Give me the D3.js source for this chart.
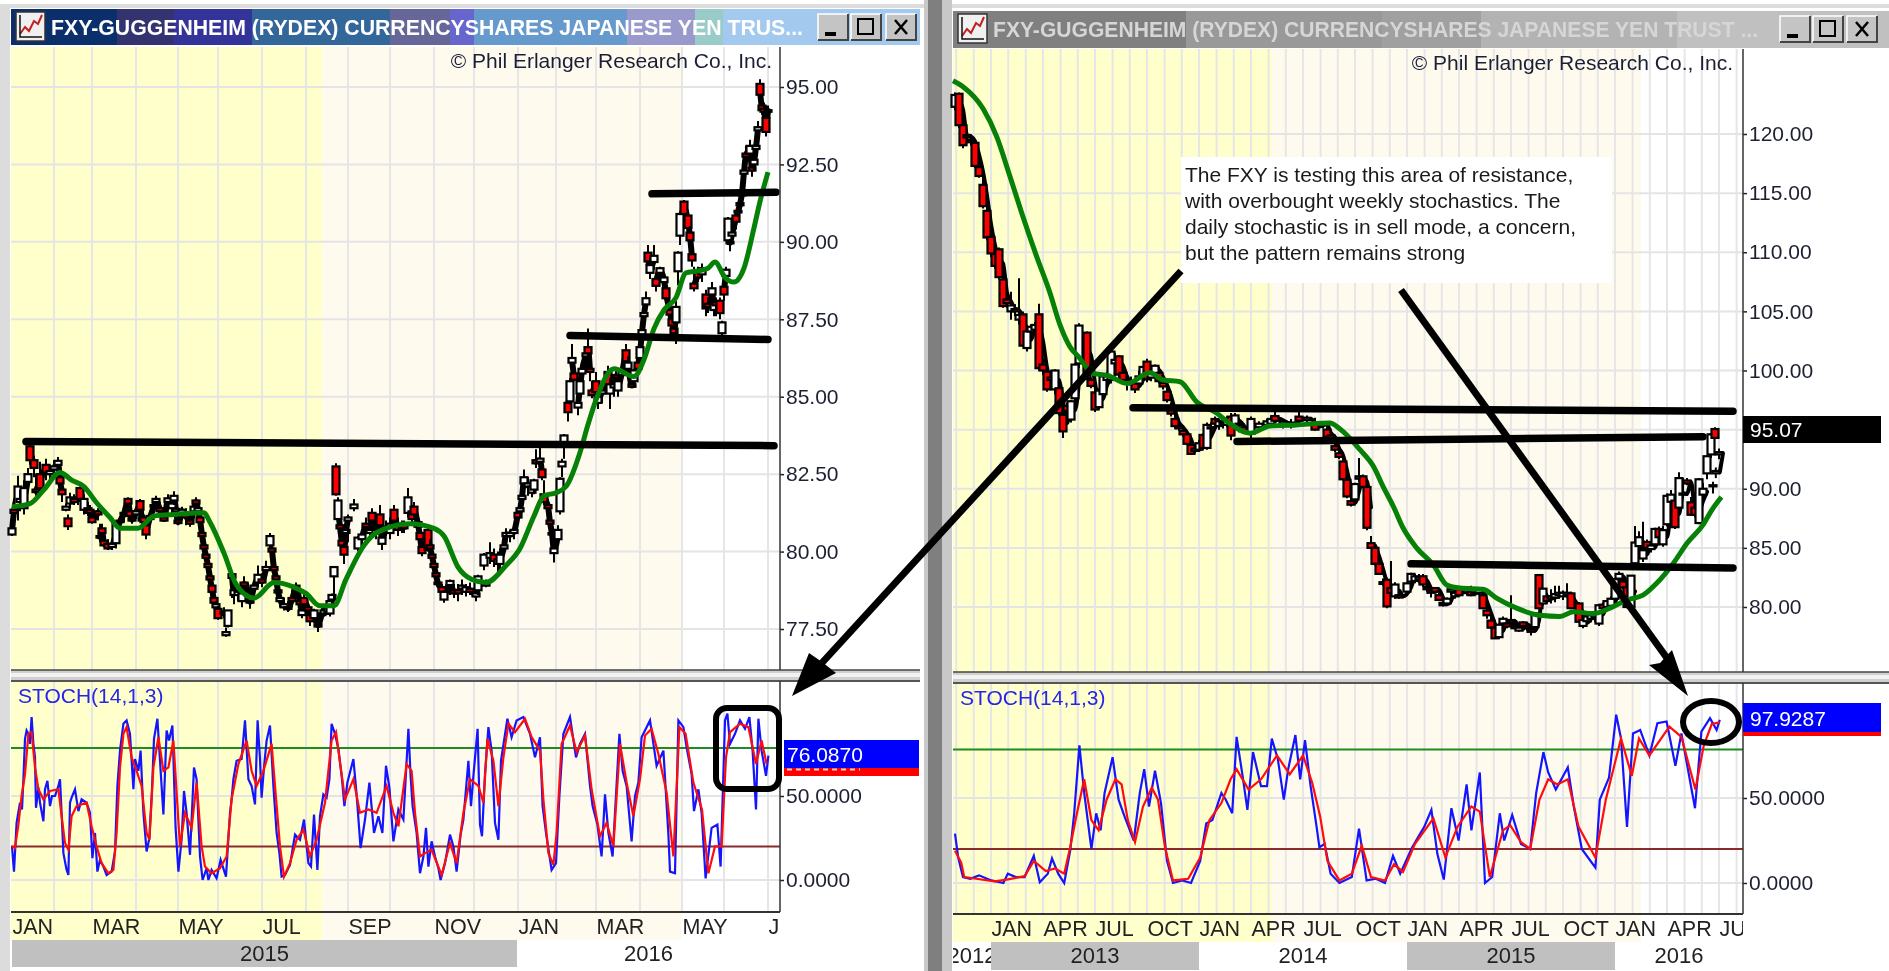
<!DOCTYPE html>
<html>
<head>
<meta charset="utf-8">
<script src="https://cdn.jsdelivr.net/npm/d3@7"></script>
<style>
  html, body { margin: 0; padding: 0; background: #fff; overflow: hidden; }
  svg { display: block; filter: blur(0.55px); font-family: "Liberation Sans", Arial, sans-serif; }
</style>
</head>
<body>
<div id="chart"></div>
<script>
// FXY daily (left) and weekly (right) charts with stochastics

// candles are [bar, open, high, low, close], drawn in this order
var dailyCandles = [
  [0,80.55,80.9,80.5,80.75],[1,81.35,81.5,80.8,81.25],[3,81.45,82.45,81,82.1],[4,81.6,82,81.3,81.7],[6,81.4,82.3,81.2,82.05],
  [8,82.25,82.7,82,82.5],[9,83.4,83.6,82.8,82.95],[11,82.95,83.1,82.4,82.7],[12,82,82.5,81.8,81.92],[14,82.5,82.9,81.9,82.05],
  [17,82.8,83,82.3,82.55],[19,82.5,82.8,82.3,82.6],[21,82.65,82.95,82.4,82.75],[23,82.8,83.05,82.55,82.93],[24,82.4,82.5,81.9,82.2],
  [25,82,82.2,81.6,81.85],[27,81.35,81.55,81.3,81.45],[28,81.07,81.2,80.7,80.82],[29,81.55,81.9,81.4,81.75],[31,81.7,81.85,81.5,81.6],
  [33,81.75,81.9,81.5,81.7],[34,82.05,82.1,81.6,81.7],[36,81.35,81.85,81.2,81.7],[38,81.4,81.6,81.15,81.25],[39,81.35,81.5,81.1,81.25],
  [40,81.1,81.3,80.9,80.95],[43,81.3,81.4,81,81.2],[44,80.45,80.9,80.3,80.5],[45,80.75,80.9,80.5,80.6],[46,80.35,80.6,80.15,80.2],
  [48,80.25,80.4,80.05,80.1],[50,80.15,80.4,80.05,80.25],[52,80.27,81,80.1,80.9],[54,80.95,81.15,80.75,81],[56,81.2,81.4,80.95,81.25],
  [58,81.7,81.75,81.4,81.55],[59,81.3,81.45,81,81.15],[60,81.07,81.3,80.9,81],[62,81.2,81.45,81.05,81.3],[64,81.63,81.7,81.2,81.35],
  [65,81.1,81.25,80.9,81],[66,81.1,81.2,80.8,80.95],[67,80.85,81,80.4,80.55],[69,81.05,81.25,80.95,81.15],[71,81.45,81.65,81.25,81.5],
  [72,81.6,81.8,81.4,81.7],[74,81.4,81.6,81.2,81.3],[76,81.1,81.35,81,81],[78,81.6,81.85,81.45,81.72],[80,81.4,81.7,81.2,81.55],
  [81,81.65,81.95,81.5,81.8],[82,81.3,81.5,81.15,81.38],[83,81,81.2,80.85,80.92],[85,81.25,81.45,81,81.35],[87,81.2,81.4,80.85,81.1],
  [89,81,81.2,80.8,80.9],[91,81.3,81.55,81.1,81.45],[92,81.65,81.75,81.4,81.55],[93,81.3,81.5,81,81.4],[94,81.1,81.25,80.9,80.95],
  [95,80.6,80.75,80.4,80.5],[96,80.2,80.4,80.05,80.1],[97,79.9,80.05,79.7,79.8],[98,79.6,79.8,79.4,79.5],[99,79.2,79.4,79,79.1],
  [100,78.9,79,78.6,78.7],[101,78.5,78.7,78.2,78.35],[102,78.2,78.4,78.05,78.3],[103,78.15,78.25,77.8,77.85],[106,78.05,78.2,77.85,78],
  [107,77.3,77.55,77.25,77.4],[108,77.6,78.1,77.55,78.1],[110,79.15,79.3,78.5,79.27],[111,78.6,78.8,78.3,78.75],[113,78.6,78.9,78.4,78.7],
  [115,78.4,78.8,78.2,78.65],[116,79,79.2,78.7,78.9],[118,78.75,79,78.5,78.68],[119,78.35,78.55,78.15,78.42],[121,78.8,79,78.6,78.9],
  [123,79,79.55,78.85,79.25],[125,79.1,79.3,78.85,79],[127,79.4,79.7,79.2,79.5],[129,80.2,80.6,80.1,80.5],[130,80.1,80.2,79.9,80],
  [131,79.5,79.6,79.2,79.4],[132,79.2,79.35,79,79.1],[133,78.75,79,78.6,78.68],[134,78.4,78.6,78.2,78.5],[136,78.2,78.5,78.1,78.3],
  [138,78.2,78.4,78.05,78.15],[140,78.5,78.75,78.2,78.4],[142,78.9,79,78.6,78.72],[144,78.4,78.7,78.2,78.3],[145,77.95,78.3,77.85,78.1],
  [146,78.5,78.65,78.1,78.3],[148,78.2,78.35,77.95,78.1],[149,77.95,78.1,77.6,77.75],[151,77.85,78.15,77.7,78.1],[153,77.65,77.75,77.4,77.58],
  [155,78,78.2,77.8,77.95],[156,78,78.2,77.9,78.1],[158,78.05,78.25,77.95,78.2],[159,78,78.4,77.9,78.4],[160,78.45,78.65,78.3,78.6],
  [161,79.2,79.5,78.4,79.5],[162,82.75,82.85,81.8,81.85],[163,81.05,81.75,80.8,81.65],[164,80.85,81.05,80.6,80.75],[165,80.35,80.75,79.9,80.2],
  [166,80.15,80.3,79.6,79.9],[167,80.6,80.95,80.3,80.7],[168,81,81.2,80.3,81.1],[171,81.4,81.7,81.3,81.52],[173,80.1,80.5,80,80.45],
  [175,80.4,80.65,80.1,80.55],[177,80.9,81.1,80.7,80.8],[179,80.6,80.9,80.4,80.7],[180,81.25,81.4,80.9,81],[182,80.6,81,80.4,80.7],
  [184,81.2,81.5,80.7,80.85],[185,80.25,80.7,80.05,80.45],[187,80.7,81,80.5,80.8],[189,80.6,81.1,80.4,80.9],[191,81.35,81.5,80.9,81],
  [193,80.85,81.1,80.5,80.7],[195,80.75,81,80.6,80.8],[196,80.85,81,80.6,80.75],[198,81.25,82.05,81.1,81.75],[200,81.3,81.5,80.9,81.05],
  [201,81.45,81.6,81.1,81.2],[203,80.95,81.05,80.65,80.8],[204,80.6,80.75,80.3,80.4],[205,80.15,80.3,79.85,79.95],[208,80.7,80.8,80,80.05],
  [209,80.2,80.4,79.95,80.1],[210,79.9,80.05,79.7,79.8],[211,79.6,79.8,79.4,79.5],[212,79.3,79.5,79.1,79.2],[213,79,79.2,78.85,78.95],
  [215,78.85,78.95,78.6,78.7],[216,78.45,78.75,78.35,78.7],[219,78.92,79.1,78.6,79.05],[221,78.75,78.95,78.5,78.65],[223,78.75,78.95,78.4,78.65],
  [225,78.8,79.1,78.6,78.9],[227,78.7,78.95,78.55,78.85],[229,78.8,79,78.6,78.7],[232,78.55,78.7,78.4,78.65],[233,78.75,79.25,78.6,79.2],
  [236,79.55,79.95,79.4,79.9],[237,78.95,79.1,78.85,78.9],[239,79.8,80.3,79.6,79.95],[241,79.9,80.1,79.5,79.7],[243,79.6,80,79.3,79.75],
  [244,79.6,80.1,79.4,79.9],[246,80.1,80.4,79.9,80.2],[247,80.5,80.75,80.25,80.6],[249,80.5,80.7,80.3,80.6],[251,80.6,80.9,80.4,80.7],
  [253,81.25,81.35,80.95,81.1],[254,81.3,81.5,81.1,81.4],[255,81.7,81.95,81.5,81.8],[256,82.2,82.65,82,82.4],[258,82.1,82.4,81.8,82.2],
  [260,81.9,82.3,81.75,82.1],[261,82,82.35,81.85,82.3],[262,82.95,83.3,82.7,82.85],[264,82.9,83.4,82.6,83],[265,82.65,82.8,82.3,82.4],
  [266,81.85,82.3,81.5,81.6],[268,81.5,81.7,81.2,81.4],[269,81,81.3,80.75,80.9],[270,80.6,80.9,80.4,80.55],[271,79.95,80.3,79.65,80.1],
  [273,80.4,80.85,80.3,80.7],[274,81.3,82.4,81.2,82.35],[275,82.75,83,82.4,82.9],[276,83.5,83.8,83,83.75],[278,84.8,84.85,84.2,84.5],
  [279,84.85,85.6,84.75,85.5],[280,86.1,86.7,85.9,86.25],[281,85.75,85.9,85.5,85.55],[283,84.65,85,84.4,84.8],[284,85.1,85.6,84.9,85.5],
  [285,85.75,86,85.5,85.9],[287,86.3,86.5,85.8,86.4],[288,86.6,87.2,86.2,86.4],[289,85.9,86.2,85.5,85.8],[290,85.2,85.5,84.95,85.05],
  [292,85.5,85.8,84.8,85.15],[293,84.8,85.1,84.6,85],[295,85.1,85.4,84.8,85.2],[298,85.8,86,85.1,85.4],[299,85.1,85.6,84.6,85.4],
  [301,85.3,85.6,85,85.4],[302,85.7,85.9,85.3,85.62],[303,85.2,85.6,85,85.5],[305,85.7,86,85.5,85.85],[307,86.5,86.7,86,86.15],
  [308,85.9,86.3,85.7,86.1],[310,85.4,85.55,85.3,85.32],[311,85.5,85.9,85.3,85.85],[313,86.1,86.3,85.8,85.9],[314,86.25,86.7,86.1,86.6],
  [315,87,87.3,86.8,87.15],[316,87.6,87.8,87.4,87.7],[317,87.98,88.4,87.7,88.18],[318,89.65,89.9,89.2,89.37],[319,89,89.5,88.8,89.25],
  [321,89.35,89.9,89.1,89.55],[322,88.8,89,88.4,88.58],[324,89,89.2,88.7,89.15],[326,88.7,89,88.4,88.85],[327,88.5,88.7,88,88.18],
  [329,87.8,88,87.5,87.65],[330,87.5,87.7,87.1,87.3],[331,87.2,87.5,86.8,87.05],[332,87.4,88.1,86.7,87.9],[333,89.05,89.7,88.6,89.65],
  [334,90.2,90.95,89.9,90.9],[336,91.3,91.35,90.6,90.9],[338,90.85,90.9,90.3,90.45],[339,90.3,90.5,89.9,90.05],[340,89.6,89.9,89.2,89.4],
  [341,88.65,89.2,88.4,88.5],[343,89,89.2,88.7,88.85],[345,88.95,89.3,88.7,89.15],[347,88.3,88.45,87.6,87.85],[348,88,88.2,87.7,87.9],
  [350,88.3,88.7,88,88.5],[351,87.8,88.1,87.6,88],[352,88.05,88.2,87.6,87.95],[354,88.1,88.2,87.5,87.7],[355,87.05,87.45,86.9,87.4],
  [356,88.55,88.7,88.1,88.3],[357,88.9,89.2,88.6,89.1],[358,90.05,90.8,89.9,90.75],[359,90,90.1,89.7,89.95],[360,90.2,90.5,90,90.3],
  [362,90.85,91,90.4,90.65],[363,90.95,91.1,90.8,91],[364,91.25,91.4,91.1,91.18],[365,91.5,91.8,91.3,91.65],[366,92.2,92.5,92,92.3],
  [367,92.85,93.1,92.6,92.75],[369,92.85,93.3,92.7,93.1],[370,92.4,92.6,92.1,92.3],[371,92.5,92.8,92.3,92.65],[372,93,93.3,92.8,93.1],
  [373,93.6,93.9,93.3,93.7],[374,95.1,95.25,94.5,94.75],[375,94.4,94.5,94.1,94.25],[376,94.3,94.5,94,94.2],[378,94.2,94.4,94,94.25],
  [377,94,94.4,93.4,93.55]
];

var weeklyCandles = [
  [0,122.3,123.5,122,123.3],[1,123.4,123.5,120.5,120.75],[2,120.75,120.9,118.8,119.05],[3,119.9,120.3,119.4,119.7],[4,119.5,119.9,119,119.3],
  [5,119.25,119.4,117.1,117.3],[6,117.2,117.5,116.3,116.45],[7,115.7,116.4,113.7,113.9],[8,113.5,114.2,111,111.25],[9,111.3,111.8,109.6,109.9],
  [10,109.85,110.4,108.6,108.85],[11,110.25,110.4,107.7,107.9],[12,107.7,108,105.3,105.45],[13,106,106.3,105.3,105.7],[14,105,106.65,104.3,105.5],
  [15,105.2,105.6,104.6,105],[16,104.3,107.8,103.9,104.7],[17,104.75,105,102,102.1],[18,101.9,103.4,101.6,103.3],[19,103.3,103.9,103,103.7],
  [20,103.45,104.1,103.2,103.85],[21,104.75,105.65,100,100.2],[22,100.5,101,99.6,100],[23,99.9,100.2,98.2,98.4],[24,99.2,100,98.6,99.4],
  [25,98.4,100.1,98,100],[26,98.5,98.7,96.2,96.4],[27,96.25,96.5,94.3,94.85],[28,97,97.3,96.3,96.6],[29,95.85,97.5,95.6,97.4],
  [30,97.65,100.6,97.4,100.5],[31,100.6,104,100.2,103.8],[33,103.2,103.3,99.2,99.35],[34,99.2,99.4,98.5,98.7],[35,98.15,98.5,96.5,96.7],
  [36,96.9,98.5,96.7,98.3],[37,98,99.7,97.6,99.5],[38,99.2,99.9,98.9,99.5],[39,99.2,101.8,98.9,101.6],[40,100.6,101.5,100.1,100.9],
  [41,101.2,101.3,99.4,99.65],[42,99.8,100,99,99.2],[43,99.1,99.6,98.3,98.9],[44,98.9,99.5,98.7,99.1],[45,98.9,99.2,98.1,98.4],
  [46,98.9,100,98.6,99.5],[47,99.5,100.4,99.2,100.3],[48,100.75,101,99,99.25],[49,99.4,100.1,99.1,99.8],[50,99.7,100.5,99.3,100.4],
  [51,99.8,100.3,98.9,99.1],[52,98.95,99.2,98.4,98.65],[53,98.2,98.5,97.3,97.5],[54,96.9,97.3,96.1,96.35],[55,95.9,96.3,95.1,95.3],
  [56,95.3,95.6,94.9,95.1],[57,94.9,95.2,94.4,94.6],[58,94.6,94.8,93.7,93.8],[59,93.7,93.9,92.85,92.95],[60,93.2,93.6,93,93.4],
  [61,93.3,94.1,93.1,93.85],[62,94.55,94.7,93.3,93.45],[63,93.45,95.6,93.3,95.4],[64,95.2,95.6,94.7,95.1],[65,95.9,96.1,95.2,95.5],
  [66,95.3,95.9,95,95.7],[67,95.6,96,95.1,95.4],[68,95.4,96.1,95.2,95.9],[69,96.1,96.4,94.1,94.5],[70,95.3,96.4,95.2,96.2],
  [71,95.5,96,95.1,95.4],[72,95.2,95.5,94.7,94.85],[74,94.65,96.1,94.2,95.9],[76,95.2,95.7,94.9,95.5],[78,95.4,95.9,95.1,95.7],
  [79,95.5,96.2,95.2,95.9],[80,96.15,96.5,95.6,95.75],[82,95.5,95.9,95.1,95.7],[84,95.3,95.9,95.1,95.6],[86,96.1,96.5,95.6,95.75],
  [88,95.8,96.2,95.5,96],[90,95.5,96,94.9,95],[92,95.4,95.7,95.1,95.5],[93,95,95.3,94.2,94.4],[94,94.5,94.8,94,94.2],
  [95,93.6,94,93.1,93.3],[96,93,93.3,92.5,92.7],[97,92.3,92.5,90.7,90.8],[98,90.75,91,89.2,89.35],[99,88.95,90,88.5,88.65],
  [100,89.1,90.5,88.9,90.4],[101,90.85,92.6,90.6,91.05],[102,91.05,91.2,90.05,90.15],[103,90.15,90.3,86.5,86.7],[104,85.4,86,85,85],
  [105,85,85.2,83.5,83.65],[106,83.65,83.9,82.7,82.8],[107,82.1,82.4,81.8,81.95],[108,82.3,82.5,79.9,80.05],[109,81.6,83.9,81,81.2],
  [110,80.9,82.1,80.7,81.9],[111,81,81.2,80.7,80.8],[113,81.3,82.1,81.1,82],[114,82.15,82.9,82,82.8],[115,82.2,82.8,82,82.6],
  [116,82.3,82.8,82,82.5],[117,82.6,82.8,81.7,81.9],[118,81.7,82,81.3,81.5],[119,81.4,81.7,80.8,81.2],[120,81.6,81.7,81.2,81.3],
  [121,81,81.2,80.5,80.6],[122,80.35,80.5,80.05,80.15],[123,80.3,80.8,80.2,80.7],[124,81.3,81.7,81,81.5],[125,80.9,81.4,80.7,81.2],
  [126,81.5,81.7,80.9,81],[128,81.2,81.7,81,81.4],[129,81.3,81.8,80.9,81],[130,81.2,81.6,81,81.4],[131,81.2,81.7,81,81.5],
  [132,81,81.2,79.85,79.9],[133,79.7,79.9,79,79.3],[134,78.85,79.2,78.2,78.25],[135,78.25,78.4,77.3,77.35],[136,77.45,78.6,77.3,78.5],
  [137,78.6,79.2,78.4,79],[138,78.6,78.9,78.2,78.35],[139,78.9,81,78.4,78.7],[140,78.4,78.9,78.1,78.2],[141,78,78.4,77.9,78.25],
  [142,78.7,78.8,78.2,78.4],[143,78.4,78.7,78,78.2],[144,78.1,78.4,77.6,77.9],[145,78.3,79.5,77.9,79.45],[146,82.7,82.75,79.8,79.9],
  [147,80.3,81.6,80.1,81.55],[148,80.9,81.2,80.3,80.5],[149,80.7,81.5,80.3,80.9],[150,80.8,81.8,80.4,81.1],[151,81,81.8,80.7,81.2],
  [152,80.9,81.4,80.6,81.2],[153,81,82,80.8,81.2],[154,81.15,81.3,79.8,79.9],[156,80.3,80.4,78.7,78.75],[157,78.4,79,78.2,78.9],
  [158,78.8,79.4,78.6,79.2],[159,79,79.5,78.7,79.3],[160,79.1,79.5,78.7,79.3],[161,78.6,80.2,78.4,80.15],[162,80.2,80.4,79.8,79.9],
  [163,80,80.6,79.8,80.5],[164,80.1,80.9,79.9,80.7],[165,80.7,82.4,80.5,82.35],[166,82.4,83,82.1,82.8],[167,82.15,82.5,81.5,81.65],
  [168,81.65,81.8,79.9,80],[169,80,82.7,79.9,82.65],[170,83.7,86.85,83.5,85.45],[171,85.15,86.4,84.4,85.9],[172,84.1,87.2,83.8,84.8],
  [173,85.5,85.7,84.8,85],[174,84.9,85.5,84.6,85.2],[175,85.3,86.7,85.1,86.6],[176,86.6,86.8,85.8,85.9],[177,85.3,86.9,85.1,86.5],
  [178,87,89.6,86.8,89.4],[179,88.9,89.9,88.7,89.5],[180,89,89.2,86.6,86.75],[181,88.4,91.4,88.2,90.9],[182,89.5,90.9,89.2,89.6],
  [183,90.7,90.9,90.3,90.45],[184,88.85,89.3,87.7,87.8],[185,88.4,89,87.6,87.8],[186,87.1,90.9,87,90.8],[187,89.5,90.5,89.2,90],
  [189.5,90.2,90.6,89.6,90.3],[190.2,91.3,91.8,90.9,91.5],[191,92.9,93.4,92.5,93.1],[188,91.3,92.8,90.8,92.75],[189,92.9,94.7,92.6,94.6],
  [190,95.05,95.2,94.3,94.3]
];

// bars standing apart from the dense run of candles
var dailyLoose = [27,28,107,129,162,171,355];
var weeklyLoose = [190,189,188];

// moving average, [bar, value]
var dailyAverage = [
  [0,81.45],[9,81.55],[16,82],[24,82.55],[30,82.3],[36,82.1],[42,81.6],[49,81.1],[54,80.75],[63,80.75],[71,81.15],[81,81.2],[96,81.25],
  [99,80.95],[106,79.95],[112,78.95],[121,78.5],[131,79],[141,78.85],[147,78.65],[154,78.25],[161,78.25],[167,79.1],[176,80.2],[182,80.6],
  [199,80.9],[211,80.75],[216,80.5],[223,79.5],[230,79.1],[237,79],[247,79.55],[254,80.1],[261,81.15],[266,81.8],[272,81.9],[277,82.1],
  [284,83.2],[288,84.1],[292,84.9],[301,85.9],[311,85.65],[316,86.2],[321,87.2],[326,87.8],[332,88.2],[337,89],[342,89.05],[348,89.15],
  [351.5,89.35],[356.5,88.85],[361,88.7],[366,89.15],[371,90.45],[374,91.3],[378,92.25]
];
var weeklyAverage = [
  [-0.5,124.5],[2,124],[7,122.15],[10.4,119.8],[13.75,116.4],[16.7,113.3],[20.4,109.65],[23.75,106.55],[26.25,103.85],[28.75,102],[30.8,101.2],
  [34.6,99.75],[38,99.6],[43,98.9],[48.75,99.8],[52,99.2],[56.25,99.05],[60.4,97.35],[65.4,96.4],[68,95.7],[73.75,94.7],[78.75,95.3],[85.4,95.4],
  [93.75,95.55],[96.25,95.05],[101.25,93.3],[104.6,91.9],[107,90.2],[109.6,88.5],[112,86.7],[115.4,85],[119.6,83.55],[123,81.85],[126.25,81.6],
  [132,81.5],[135.4,80.75],[140.4,79.9],[146.25,79.3],[151.25,79.2],[154.6,79.6],[159.6,79.45],[163.75,79.9],[168,80.6],[172,81],[175.4,82],
  [179.6,83.7],[183,85.4],[187,86.95],[189.2,88.2],[191.6,89.3]
];

// stochastic %K and %D, [bar, value]
var dailyK = [
  [0,20],[1,5],[2.3,34],[4,46],[5,42],[5.7,60],[6.5,84],[7.3,89],[8.2,87],[9,81],[9.8,97],[10.7,81],[11.5,73],[12,43],[13.2,55],[14,46],[15.7,35],
  [16.5,54],[17.7,59],[19,44],[20,50],[21.5,50],[23.2,56],[24,60],[24.8,40],[25.7,16],[27.3,6],[28.2,3],[29,46],[29.8,49],[31.5,54],[33.2,41],
  [34.8,48],[37.3,46],[39,40],[40.2,13],[41.5,28],[42.7,5],[44,12],[45.7,8],[47.3,3],[49.8,5],[51.5,17],[52.7,56],[54,77],[55.7,93],[57.3,95],
  [59,87],[60.7,54],[61.5,72],[63.2,65],[64.3,77],[65.7,40],[67.3,17],[68.7,25],[70,54],[71,84],[72.7,96],[74,71],[75.7,39],[77.3,89],[78.5,83],
  [80.2,92],[81.8,31],[83.2,5],[84.8,24],[86,53],[87.3,40],[89,15],[91,67],[92.3,60],[94,14],[95.3,0],[97.3,7],[98.2,0],[99.8,6],[102.3,1],[104.3,12],
  [107,2],[109,40],[109.8,48],[110.7,60],[112.3,71],[114.8,72],[116.5,95],[118.2,60],[119.8,56],[121.5,45],[122.8,95],[124,72],[124.8,49],[126,67],
  [127.3,83],[129,92],[130.7,56],[132.3,28],[133.7,16],[134.8,2],[136.5,3],[139,9],[141.5,27],[144,24],[146,36],[148.2,10],[149.5,8],[151,39],[152.7,6],
  [154,38],[155.7,51],[157.3,49],[158.7,60],[159.8,93],[161.5,87],[163.2,78],[165,60],[166.2,44],[167.7,58],[170.7,72],[172.3,51],[174.3,19],[176.5,36],
  [178.7,58],[181,28],[183.2,38],[185.2,28],[187,68],[188.7,55],[190.7,23],[193.2,42],[195.7,36],[198.2,90],[199.3,62],[200.3,44],[202.3,28],[204,4],
  [205.7,14],[207,31],[208.2,8],[209.8,23],[211.5,14],[213.2,7],[214.3,0],[216.5,10],[219,27],[220.7,20],[222.3,5],[224.3,27],[225.7,36],[228.2,71],
  [229.5,44],[230.7,62],[232.8,90],[234,33],[235,26],[236.5,63],[238.2,91],[239.8,77],[241.5,34],[243.2,24],[244.5,71],[247.7,96],[249.8,85],[252.3,95],
  [255.7,97],[259,87],[261.5,73],[264,85],[265.3,44],[267,28],[269.8,6],[272,10],[273.7,50],[275.7,87],[279,97],[282,73],[284,81],[286.5,87],[289,56],
  [290.3,44],[292.7,33],[294.8,14],[296.5,51],[298.2,28],[300.3,14],[303.7,87],[305.3,65],[307.3,56],[309.8,23],[311.5,50],[313.2,58],[314.8,85],[319,95],
  [322.3,68],[325.7,77],[328.2,27],[329,5],[331.5,4],[333.2,95],[335.7,91],[337.3,79],[339.8,63],[341,41],[343.2,54],[344.8,40],[346.8,1],[349.8,31],
  [352.7,33],[354.3,8],[356.5,95],[357.7,99],[359,81],[361.5,87],[364,95],[366.5,90],[368.7,97],[370.3,77],[372,42],[373.2,96],[374.8,77],[377,62],[378.2,74]
];
var dailyD = [
  [0,20],[1.5,19],[3.2,33],[4.8,50],[6.5,63],[8.2,87],[9.8,88],[11.5,67],[13.2,54],[15.7,48],[19,53],[23.2,54],[24.8,38],[26.5,22],[28.2,18],[29.8,38],
  [32.3,44],[37.3,46],[39.8,32],[42.3,20],[44.8,10],[48.2,4],[50.7,6],[52.3,28],[54,67],[55.7,87],[57.3,91],[59.8,73],[62.3,65],[64.8,56],[67.3,28],
  [68.7,24],[70.7,67],[73.2,85],[75.7,65],[78.2,67],[80.7,83],[82.3,52],[84,20],[86.5,40],[89.8,31],[92.3,58],[94.8,20],[96.5,8],[99.8,4],[104,7],
  [107.3,14],[109.8,48],[113.2,69],[117.3,83],[119.8,65],[122.3,56],[125.7,65],[129.8,81],[131.5,56],[134,20],[136,2],[139,10],[142.3,24],[145.7,30],
  [149,14],[152.3,24],[156.5,46],[159.8,83],[162,88],[164.8,63],[166.5,48],[170.7,60],[174,40],[178.2,42],[182.3,40],[187.3,56],[190.7,40],[193.2,32],
  [197.3,69],[199.8,65],[201.5,40],[204,14],[206.5,16],[209.8,18],[214.8,3],[219,22],[222.3,10],[225.7,40],[229,60],[233.2,56],[235.7,46],[237.7,84],
  [240.7,71],[243.2,44],[245.7,73],[248.2,93],[251.5,88],[256.5,96],[259.8,85],[264,77],[265.7,48],[268.2,16],[270.7,9],[272.3,28],[274.8,81],[279,92],
  [282.3,76],[286.5,86],[289.8,54],[294,26],[297.3,34],[300.7,20],[304,81],[307.3,58],[310.7,38],[314,60],[316.5,86],[319.8,90],[323.2,75],[327.3,52],
  [330.7,14],[333.7,91],[336.8,87],[340.7,58],[345,42],[348.2,4],[351.5,20],[354.8,20],[357,73],[359,88],[364,93],[368.2,91],[372,69],[374.8,83],[377.3,69]
];
var weeklyK = [
  [0,29],[0.8,15],[2,3.5],[3.8,2.5],[6,4.5],[9.1,1.5],[12.1,0],[13.2,5.5],[15.2,3.5],[17.4,3.5],[19.7,16],[21.2,0.5],[23.2,5.5],[24.25,14.5],[25.8,5.5],
  [27.3,0],[28.8,19],[29.8,41],[31.1,81],[32.3,53],[34.1,20],[35.3,41],[36.4,31],[37.4,53],[39.4,74],[40.9,49],[42.4,39],[44.7,25],[46.2,53],[47.3,67],
  [48.5,45],[50,66],[51.5,47],[53,13],[54.5,0],[56.8,1.5],[59,0],[61.3,13],[62.8,35],[64.35,37],[66.6,53],[67.7,49],[69.3,41],[70.4,86],[71.9,63],[73.1,43],
  [74.5,77],[76.5,57],[78,57],[79.2,85],[80.7,73],[82.2,49],[83.3,67],[85.1,87],[86.3,61],[87.5,84],[88.9,57],[90.4,33],[91.1,21],[92.4,23],[93.9,5.5],
  [96.1,0],[99.2,3.5],[101,32],[102.9,1.5],[105.2,2.5],[107.5,0],[109.5,16],[111.3,5.5],[114.3,21],[117.3,33],[119.1,43],[120.6,17],[122.2,2],[124.1,44],
  [125.9,25],[127.9,58],[129.1,31],[131.2,65],[132.5,0],[134.3,3.5],[136.2,41],[137.3,25],[139.3,40],[141.5,23],[143.8,20],[145.3,53],[147.1,77],[148.3,65],
  [150.2,55],[153.2,68],[154.7,45],[156.7,20],[160.1,9],[161.2,49],[163.5,62],[165.3,99],[166.5,85],[168,33],[169.5,88],[171.3,90],[173.6,75],[175.6,94],
  [177.9,95],[180.1,69],[181.6,88],[185,44],[186.6,89],[188.75,97],[190.4,90],[191.2,96]
];
var weeklyD = [
  [0,19],[1.55,12],[2.3,3.5],[5.3,2.5],[9.9,1],[12.9,2],[17.4,4],[19.7,13],[22.7,7],[25,8.5],[27.3,5.5],[28.8,21],[30.3,39],[32.3,61],[34.1,37],[35.9,31],
  [37.9,49],[40.1,61],[41.65,58],[43.2,37],[45,24],[47,45],[49.2,56],[50.75,49],[52.5,21],[54.5,1.5],[58.3,2.5],[61.3,15],[63.6,37],[66.6,47],[68.9,61],
  [70.4,67],[73.4,55],[76.5,61],[80.5,75],[83.7,64],[87,75],[89.3,59],[91.3,39],[93.1,13],[96.1,1.5],[99.2,5.5],[101.7,22],[104,3.5],[107.5,1.5],[109.75,11],
  [112,6.5],[115,23],[119.6,38],[122.6,15],[125.6,33],[129.1,45],[131.2,42],[133.7,3.5],[137,31],[138.8,34],[141.5,24],[143.8,20],[146.1,49],[148.3,61],
  [150.6,58],[153.2,61],[155.9,33],[160.1,15],[162.7,49],[166.5,85],[169.2,63],[171,85],[173.6,75],[178.6,92],[181.6,86],[185.1,55],[187.2,81],[189.2,93.5],[191.2,94.5]
];

// hand drawn resistance lines, [bar, price]
var dailyLines = [ [[7,83.55],[381,83.42]], [[279,86.98],[378,86.85]], [[320,91.55],[382,91.6]] ];
var weeklyLines = [ [[44.5,96.85],[194.5,96.55]], [[70.5,94],[187,94.4]], [[114,83.65],[194.5,83.3]] ];

// axes
var dailyPriceTicks = [95, 92.5, 90, 87.5, 85, 82.5, 80, 77.5];
var weeklyPriceTicks = [120, 115, 110, 105, 100, 95, 90, 85, 80];
var stochTicks = [50, 0];
var dailyMonthBars = [21,40,62,83,103,125,147,168,189,211,231,253,272,292,314,335,356,378];
var weeklyMonthBars = [0.3,4.7,9,13.3,17.7,22,26.4,30.7,35,39.4,43.7,48,52.4,56.7,61,65.4,69.7,74,78.4,82.7,87,91.4,95.7,100,104.4,108.7,113,117.4,121.7,126,130.4,134.7,139,143.4,147.7,152,156.4,160.7,165,169.4,173.7,178,182.4,186.7,191,195.4];
var dailyLabelBars = [0,40,83,125,168,211,253,292,335,378];
var dailyLabels = ["JAN","MAR","MAY","JUL","SEP","NOV","JAN","MAR","MAY","J"];
var weeklyLabelBars = [9,22,35,48,61,74,87,100,113,126,139,152,165,178,191];
var weeklyLabels = ["JAN","APR","JUL","OCT","JAN","APR","JUL","OCT","JAN","APR","JUL","OCT","JAN","APR","JU"];
var dailyYears = [["2015",0,252.5,true],["2016",252.5,384,false]];
var weeklyYears = [["2012",-1,9,false],["2013",9,61,true],["2014",61,113,false],["2015",113,165,true],["2016",165,197,false]];
var calloutLines = [
  "The FXY is testing this area of resistance,",
  "with overbought weekly stochastics. The",
  "daily stochastic is in sell mode, a concern,",
  "but the pattern remains strong"
];
var titleText = "FXY-GUGGENHEIM (RYDEX) CURRENCYSHARES JAPANESE YEN TRUS...";
var titleTextRight = "FXY-GUGGENHEIM (RYDEX) CURRENCYSHARES JAPANESE YEN TRUST ...";
var copyright = "\u00A9 Phil Erlanger Research Co., Inc.";

var svg = d3.select("#chart").append("svg").attr("width", 1889).attr("height", 971);

// grey frame behind the two windows
svg.append("rect").attr("width", 1889).attr("height", 971).attr("fill", "#ffffff");
svg.append("rect").attr("x", 0).attr("y", 4).attr("width", 10).attr("height", 967).attr("fill", "#dcdcdc");
svg.append("rect").attr("x", 924).attr("y", 0).attr("width", 28).attr("height", 971).attr("fill", "#c8c8c8");
svg.append("rect").attr("x", 928).attr("y", 0).attr("width", 14).attr("height", 971).attr("fill", "#7f7f7f");
svg.append("rect").attr("x", 10).attr("y", 4).attr("width", 914).attr("height", 4).attr("fill", "#dcdcdc");
svg.append("rect").attr("x", 952).attr("y", 4).attr("width", 937).attr("height", 4).attr("fill", "#dcdcdc");

function drawWindow(win) {
  // title bar, the colours step because of the screenshot palette
  win.bar.forEach(function(seg) {
    svg.append("rect").attr("x", seg[0]).attr("y", win.barTop).attr("width", seg[1] - seg[0]).attr("height", win.barH).attr("fill", seg[2]);
  });
  svg.append("text").attr("x", win.titleX).attr("y", win.barTop + 26).attr("font-size", 22).attr("font-weight", "bold")
    .attr("fill", win.titleColor).attr("textLength", win.titleW).attr("lengthAdjust", "spacingAndGlyphs").text(win.title);

  // little chart icon
  var ic = svg.append("g").attr("transform", "translate(" + win.iconX + "," + (win.barTop + 3) + ")");
  ic.append("rect").attr("width", 29).attr("height", 29).attr("fill", "#f0f0f0").attr("stroke", "#333").attr("stroke-width", 1.5);
  ic.append("path").attr("d", "M4 22 L9 15 L13 19 L18 9 L22 12 L26 3").attr("fill", "none").attr("stroke", "#c02020").attr("stroke-width", 2);
  ic.append("path").attr("d", "M4 3 V25 H26").attr("fill", "none").attr("stroke", "#111").attr("stroke-width", 1.5);

  // min, max, close
  win.buttons.forEach(function(bx, i) {
    var b = svg.append("g").attr("transform", "translate(" + bx + "," + (win.barTop + 5) + ")");
    b.append("rect").attr("width", 30).attr("height", 26).attr("fill", "#c4c4c4");
    b.append("path").attr("d", "M0 26 V0 H30").attr("fill", "none").attr("stroke", "#fff").attr("stroke-width", 1.5);
    b.append("path").attr("d", "M0 26 H30 V0").attr("fill", "none").attr("stroke", "#444").attr("stroke-width", 2);
    if (i == 0) b.append("rect").attr("x", 7).attr("y", 18).attr("width", 11).attr("height", 4).attr("fill", "#000");
    if (i == 1) b.append("rect").attr("x", 7).attr("y", 5).attr("width", 15).attr("height", 15).attr("fill", "none").attr("stroke", "#000").attr("stroke-width", 2);
    if (i == 2) b.append("path").attr("d", "M9 6 L21 20 M21 6 L9 20").attr("stroke", "#000").attr("stroke-width", 2.5);
  });
}

// runs of candles joined up, so a dense stretch shows as one black mass
function candleRuns(candles, jump, loose) {
  var runs = [[]];
  candles.slice().sort((a, b) => a[0] - b[0]).forEach(function(d) {
    var mid = (d[1] + d[4]) / 2;
    var cur = runs[runs.length - 1];
    var last = cur[cur.length - 1];
    if (loose.indexOf(d[0]) >= 0) { runs.push([]); return; }
    if (last && Math.abs(last[1] - mid) > jump) { cur = []; runs.push(cur); }
    cur.push([d[0], mid]);
  });
  return runs.filter(r => r.length > 1);
}

function drawPanel(p) {
  var x = d3.scaleLinear().domain([0, 100]).range([p.x0, p.x0 + 100 * p.barPx]);
  var y = d3.scaleLinear().domain(p.priceDomain).range(p.priceRange);
  var yStoch = d3.scaleLinear().domain([0, 100]).range(p.stochRange);
  var g = svg.append("g");

  // background bands for the years, also behind the month labels
  g.append("rect").attr("x", p.left).attr("y", p.top).attr("width", p.shadeYellow - p.left).attr("height", p.monthBottom - p.top).attr("fill", "#ffffcc");
  g.append("rect").attr("x", p.shadeYellow).attr("y", p.top).attr("width", p.shadeCream - p.shadeYellow).attr("height", p.monthBottom - p.top).attr("fill", "#fffaee");

  // grid
  var gridPanels = [[p.top, p.priceBottom], [p.stochTop, p.stochBottom]];
  gridPanels.forEach(function(gp) {
    g.selectAll(null).data(p.monthBars).enter().append("line")
      .attr("x1", d => x(d)).attr("x2", d => x(d)).attr("y1", gp[0]).attr("y2", gp[1])
      .attr("stroke", "#e6e6e6").attr("stroke-width", 2);
  });
  g.selectAll(null).data(p.priceTicks).enter().append("line")
    .attr("x1", p.left).attr("x2", p.axisX).attr("y1", d => y(d)).attr("y2", d => y(d))
    .attr("stroke", "#e4e4e4").attr("stroke-width", 2);
  g.selectAll(null).data(stochTicks).enter().append("line")
    .attr("x1", p.left).attr("x2", p.axisX).attr("y1", d => yStoch(d)).attr("y2", d => yStoch(d))
    .attr("stroke", "#e4e4e4").attr("stroke-width", 2);

  // black mass under the candles
  var runLine = d3.line().x(d => x(d[0]) + p.massShift).y(d => y(d[1])).curve(d3.curveMonotoneX);
  candleRuns(p.candles, p.massJump, p.loose).forEach(function(r) {
    g.append("path").attr("d", runLine(r)).attr("fill", "none").attr("stroke", "#000")
      .attr("stroke-width", p.massWidth).attr("stroke-linejoin", "round").attr("stroke-linecap", "round");
  });

  // candles, wick first, then the body
  var candles = g.selectAll(null).data(p.candles).enter().append("g");
  candles.append("line")
    .attr("x1", d => x(d[0])).attr("x2", d => x(d[0]))
    .attr("y1", d => y(d[2])).attr("y2", d => y(d[3]))
    .attr("stroke", "#000").attr("stroke-width", 2);
  candles.append("rect")
    .attr("x", d => x(d[0]) - 3.5)
    .attr("y", d => Math.min(y(d[1]), y(d[4])))
    .attr("width", 7)
    .attr("height", d => Math.abs(y(d[1]) - y(d[4])))
    .attr("fill", d => d[4] >= d[1] ? "#ffffff" : "#ff0000")
    .attr("stroke", "#000").attr("stroke-width", 2.2);

  var priceLine = d3.line().x(d => x(d[0])).y(d => y(d[1]));
  g.append("path").attr("d", priceLine.curve(d3.curveMonotoneX)(p.average))
    .attr("fill", "none").attr("stroke", "#068006").attr("stroke-width", 5);

  // thick resistance lines
  p.lines.forEach(function(l) {
    g.append("path").attr("d", d3.line().x(d => x(d[0])).y(d => y(d[1]))(l))
      .attr("fill", "none").attr("stroke", "#000").attr("stroke-width", 7.5).attr("stroke-linecap", "round");
  });

  // stochastic guide lines and the two lines
  g.append("line").attr("x1", p.left).attr("x2", p.axisX).attr("y1", yStoch(78.5)).attr("y2", yStoch(78.5)).attr("stroke", "#1f8a1f").attr("stroke-width", 2);
  g.append("line").attr("x1", p.left).attr("x2", p.axisX).attr("y1", yStoch(20)).attr("y2", yStoch(20)).attr("stroke", "#8a2a2a").attr("stroke-width", 2);
  var stochLine = d3.line().x(d => x(d[0])).y(d => yStoch(d[1]));
  g.append("path").attr("d", stochLine(p.k)).attr("fill", "none").attr("stroke", "#1414ff").attr("stroke-width", 2.2);
  g.append("path").attr("d", stochLine(p.d)).attr("fill", "none").attr("stroke", "#ff0c0c").attr("stroke-width", 2.2);

  // divider between the price and the stochastic panes
  g.append("rect").attr("x", p.left).attr("y", p.priceBottom).attr("width", p.right - p.left).attr("height", p.stochTop - p.priceBottom).attr("fill", "#cfcfcf");
  g.append("rect").attr("x", p.left).attr("y", p.priceBottom + 3).attr("width", p.right - p.left).attr("height", 4).attr("fill", "#f2f2f2");
  g.append("line").attr("x1", p.left).attr("x2", p.right).attr("y1", p.priceBottom).attr("y2", p.priceBottom).attr("stroke", "#444").attr("stroke-width", 1.5);
  g.append("line").attr("x1", p.left).attr("x2", p.right).attr("y1", p.stochTop).attr("y2", p.stochTop).attr("stroke", "#555").attr("stroke-width", 2);

  // axes
  var priceAxis = d3.axisRight(y).tickValues(p.priceTicks).tickFormat(d3.format(".2f")).tickSize(4).tickPadding(2);
  var stochAxis = d3.axisRight(yStoch).tickValues(stochTicks).tickFormat(d3.format(".4f")).tickSize(4).tickPadding(2);
  var ax1 = g.append("g").attr("transform", "translate(" + p.axisX + ",0)").call(priceAxis);
  var ax2 = g.append("g").attr("transform", "translate(" + p.axisX + ",0)").call(stochAxis);
  [ax1, ax2].forEach(function(a) {
    a.select(".domain").remove();
    a.selectAll("text").attr("font-size", 21).attr("font-family", "Liberation Sans").attr("fill", "#1c2030");
    a.selectAll("line").attr("stroke", "#222").attr("stroke-width", 1.5);
  });
  g.append("line").attr("x1", p.axisX).attr("x2", p.axisX).attr("y1", p.top).attr("y2", p.priceBottom).attr("stroke", "#333").attr("stroke-width", 1.5);
  g.append("line").attr("x1", p.axisX).attr("x2", p.axisX).attr("y1", p.stochTop).attr("y2", p.stochBottom).attr("stroke", "#333").attr("stroke-width", 1.5);
  g.append("line").attr("x1", p.left).attr("x2", p.axisX).attr("y1", p.stochBottom).attr("y2", p.stochBottom).attr("stroke", "#333").attr("stroke-width", 2);

  // month labels start on their gridline, clip group sits outside the axis shift
  var clipId = "clip" + p.name;
  svg.append("clipPath").attr("id", clipId).append("rect").attr("x", p.left).attr("y", p.stochBottom).attr("width", p.axisX - p.left).attr("height", 60);
  var monthAxis = d3.axisBottom(x).tickValues(p.labelBars).tickFormat((d, i) => p.labels[i]).tickSize(0).tickPadding(0);
  var ax3 = g.append("g").attr("clip-path", "url(#" + clipId + ")").append("g")
    .attr("transform", "translate(0," + (p.stochBottom + 4) + ")").call(monthAxis);
  ax3.select(".domain").remove();
  ax3.selectAll("text").attr("font-size", 21.5).attr("font-family", "Liberation Sans").attr("fill", "#222").attr("text-anchor", "start").attr("dy", "0.85em");

  // year strip
  var yearG = g.append("g").attr("clip-path", "url(#yr" + p.name + ")");
  svg.append("clipPath").attr("id", "yr" + p.name).append("rect").attr("x", p.left).attr("y", p.monthBottom).attr("width", p.axisX - p.left).attr("height", p.yearBottom - p.monthBottom);
  p.years.forEach(function(yr) {
    var x1 = x(yr[1]), x2 = Math.min(x(yr[2]), p.axisX);
    if (yr[3]) yearG.append("rect").attr("x", x1).attr("y", p.monthBottom).attr("width", x2 - x1).attr("height", p.yearBottom - p.monthBottom).attr("fill", "#c0c0c0");
    yearG.append("text").attr("x", (Math.max(x1, p.left) + x2) / 2).attr("y", p.monthBottom + 21).attr("text-anchor", "middle")
      .attr("font-size", 22).attr("fill", "#222").text(yr[0]);
  });

  // copyright and the stochastic name
  g.append("text").attr("x", p.copyEnd).attr("y", p.top + 21).attr("text-anchor", "end").attr("font-size", 21).attr("fill", "#1a1f36").text(copyright);
  g.append("text").attr("x", p.left + 7).attr("y", p.stochTop + 22).attr("font-size", 21).attr("fill", "#2626e6").text("STOCH(14,1,3)");
}

drawWindow({
  barTop: 9, barH: 36, titleX: 51, titleW: 752, title: titleText, titleColor: "#ffffff", iconX: 16,
  buttons: [818, 851, 886],
  bar: [[11,117,"#0a2f6a"],[117,174,"#33336f"],[174,252,"#333399"],[252,390,"#336699"],[390,450,"#666699"],[450,474,"#6666cc"],[474,627,"#6699cc"],[627,695,"#9999cc"],[695,723,"#99ccc8"],[723,920,"#a3c9ee"]]
});
drawWindow({
  barTop: 11, barH: 37, titleX: 993, titleW: 765, title: titleTextRight, titleColor: "#d6d6d6", iconX: 958,
  buttons: [1780, 1813, 1847],
  bar: [[953,1186,"#808080"],[1186,1382,"#999999"],[1382,1481,"#a0a0a0"],[1481,1677,"#b3b3b3"],[1677,1889,"#c0c0c0"]]
});

drawPanel({
  name: "L", x0: 12, barPx: 2, left: 11, right: 920, axisX: 780, top: 47, priceBottom: 670, stochTop: 681, stochBottom: 912,
  monthBottom: 940, yearBottom: 967, shadeYellow: 322.5, shadeCream: 681.6, copyEnd: 772,
  priceDomain: [95, 77.5], priceRange: [87, 629], stochRange: [880, 712],
  priceTicks: dailyPriceTicks, monthBars: dailyMonthBars, labelBars: dailyLabelBars, labels: dailyLabels, years: dailyYears,
  candles: dailyCandles, average: dailyAverage, lines: dailyLines, k: dailyK, d: dailyD,
  massWidth: 6, massShift: 0, massJump: 0.7, loose: dailyLoose
});
drawPanel({
  name: "R", x0: 955, barPx: 4, left: 953, right: 1889, axisX: 1743, top: 49, priceBottom: 672, stochTop: 683, stochBottom: 914,
  monthBottom: 942, yearBottom: 970, shadeYellow: 1272, shadeCream: 1641, copyEnd: 1733,
  priceDomain: [80, 120], priceRange: [607, 134], stochRange: [883, 713],
  priceTicks: weeklyPriceTicks, monthBars: weeklyMonthBars, labelBars: weeklyLabelBars, labels: weeklyLabels, years: weeklyYears,
  candles: weeklyCandles, average: weeklyAverage, lines: weeklyLines, k: weeklyK, d: weeklyD,
  massWidth: 4, massShift: 4, massJump: 3, loose: weeklyLoose
});

// value flags on the right of the axes
function flag(x1, x2, y, h, fill, txt, size, tx) {
  svg.append("rect").attr("x", x1).attr("y", y).attr("width", x2 - x1).attr("height", h).attr("fill", fill);
  svg.append("text").attr("x", tx).attr("y", y + h - 6).attr("font-size", size).attr("fill", "#fff").text(txt);
}
flag(784, 919, 760, 16, "#ff0000", "", 21, 787);
// the red flag's own reading is hidden behind the blue one, only its foot shows
svg.append("line").attr("x1", 787).attr("x2", 860).attr("y1", 769.5).attr("y2", 769.5).attr("stroke", "#ffd0d0").attr("stroke-width", 2).attr("stroke-dasharray", "5 4");
flag(784, 919, 740, 28, "#0000ff", "76.0870", 21, 787);
flag(1743, 1881, 726, 10, "#ff0000", "", 21, 1750);
flag(1743, 1881, 703, 29, "#0000ff", "97.9287", 21, 1750);
flag(1743, 1881, 416, 27, "#000000", "95.07", 21, 1750);

// callout
svg.append("rect").attr("x", 1181).attr("y", 157).attr("width", 431).attr("height", 126).attr("fill", "#ffffff");
svg.selectAll(null).data(calloutLines).enter().append("text")
  .attr("x", 1185).attr("y", (d, i) => 182 + i * 26).attr("font-size", 21).attr("fill", "#1a1a1a").text(d => d);

// arrows
function arrow(from, to, head) {
  svg.append("line").attr("x1", from[0]).attr("y1", from[1]).attr("x2", to[0]).attr("y2", to[1]).attr("stroke", "#000").attr("stroke-width", 7);
  svg.append("polygon").attr("points", head.join(" ")).attr("fill", "#000");
}
arrow([1181, 271], [820, 665], [[792,696],[809,653],[822,662],[836,673]]);
arrow([1401, 290], [1672, 665], [[1688,696],[1649,665],[1660,663],[1672,650]]);

// marks round the latest stochastic readings
svg.append("rect").attr("x", 716).attr("y", 708).attr("width", 63).attr("height", 81).attr("rx", 11).attr("fill", "none").attr("stroke", "#000").attr("stroke-width", 6);
svg.append("ellipse").attr("cx", 1711).attr("cy", 722).attr("rx", 28).attr("ry", 21).attr("fill", "none").attr("stroke", "#000").attr("stroke-width", 6);
</script>
</body>
</html>
